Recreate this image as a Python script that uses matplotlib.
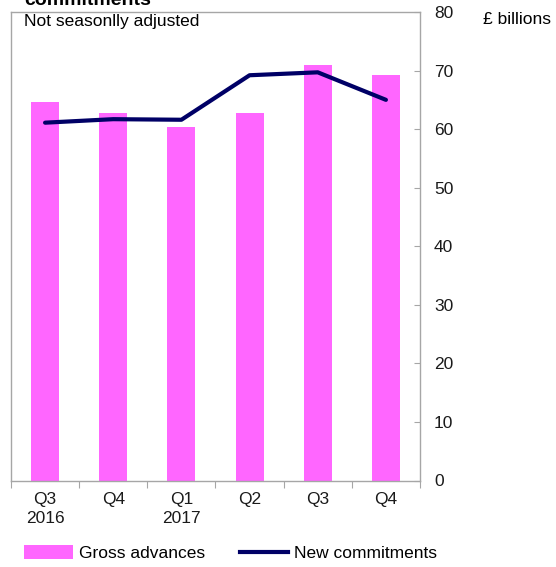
import matplotlib.pyplot as plt
from matplotlib.patches import Patch
from matplotlib.lines import Line2D

plt.rcParams['font.family'] = ['Liberation Sans', 'DejaVu Sans']

quarters = ['Q3\n2016', 'Q4', 'Q1\n2017', 'Q2', 'Q3', 'Q4']
gross_advances = [64.6, 62.8, 60.4, 62.8, 70.9, 69.2]
new_commitments = [61.1, 61.7, 61.6, 69.2, 69.7, 65.0]

pink = '#FF66FF'
navy = '#000066'
grey = '#A6A6A6'
fs = 12.5

fig = plt.figure(figsize=(5.56, 5.67), dpi=100)
ax = fig.add_axes([11 / 556, 1 - 480.5 / 567, 409 / 556, 468.5 / 567])

x = range(len(quarters))
ax.bar(x, gross_advances, width=0.41, color=pink, zorder=2)
ax.plot(x, new_commitments, color=navy, linewidth=3.0, solid_capstyle='round', zorder=3)

ax.set_xlim(-0.5, len(quarters) - 0.5)
ax.set_ylim(0, 80)
ax.yaxis.tick_right()
ax.set_yticks(range(0, 81, 10))
ax.tick_params(axis='y', direction='in', length=4, color=grey, labelsize=fs, pad=10,
               labelcolor='#1a1a1a')

# category labels between boundary ticks
ax.set_xticks([i - 0.5 for i in range(len(quarters) + 1)])
ax.set_xticklabels([])
ax.tick_params(axis='x', direction='out', length=5, color=grey)
for i, q in enumerate(quarters):
    ax.text(i, -2.0, q, ha='center', va='top', fontsize=fs, linespacing=1.3,
            color='#1a1a1a')

for s in ax.spines.values():
    s.set_color(grey)
    s.set_linewidth(1.0)

ax.text(0.032, 0.995, 'Not seasonlly adjusted', transform=ax.transAxes,
        ha='left', va='top', fontsize=fs)
fig.text(483 / 556, 1 - 20 / 567, '£ billions', ha='left', va='center', fontsize=fs)
fig.text(24 / 556, 1 - 5 / 567, 'commitments', ha='left', va='baseline',
         fontsize=14, fontweight='bold')

handles = [Patch(facecolor=pink, edgecolor='none'),
           Line2D([0], [0], color=navy, linewidth=3.0)]
fig.legend(handles, ['Gross advances', 'New commitments'], loc='center left',
           bbox_to_anchor=(24 / 556, 1 - 553 / 567), ncol=2, frameon=False,
           fontsize=fs, handlelength=2.8, handleheight=0.9, handletextpad=0.35,
           columnspacing=2.0, borderaxespad=0, borderpad=0)

fig.savefig('out.png', dpi=100)
